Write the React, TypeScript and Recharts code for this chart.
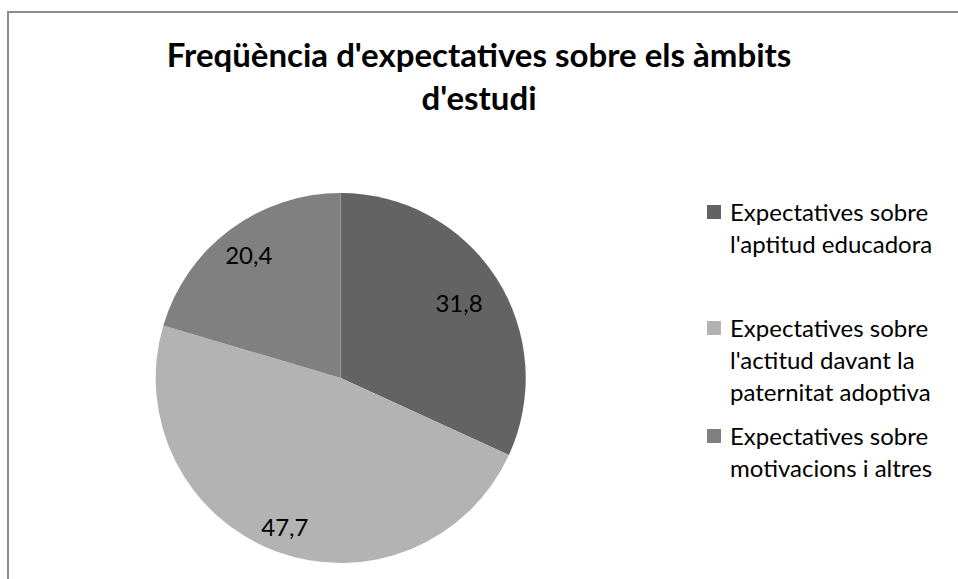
import { PieChart, Pie, Cell, Legend } from 'recharts';

const categories = [
  "Expectatives sobre l'aptitud educadora",
  "Expectatives sobre l'actitud davant la paternitat adoptiva",
  'Expectatives sobre motivacions i altres',
];
const values = [31.8, 47.7, 20.4];
const legendLines = [
  ['Expectatives sobre', "l'aptitud educadora"],
  ['Expectatives sobre', "l'actitud davant la", 'paternitat adoptiva'],
  ['Expectatives sobre', 'motivacions i altres'],
];

const sliceColors = ['#636363', '#b3b3b3', '#808080'];
const labelRadius = [0.76, 0.86, 0.83];
const legendTops = [196, 312, 420];
const FONT = 'Lato, "Open Sans", sans-serif';

const data = categories.map((name, i) => ({ name, value: values[i] }));

const RADIAN = Math.PI / 180;
const renderLabel = ({ cx, cy, midAngle, outerRadius, index, value }: any) => {
  const r = outerRadius * labelRadius[index];
  const x = cx + r * Math.cos(-midAngle * RADIAN);
  const y = cy + r * Math.sin(-midAngle * RADIAN);
  return (
    <text x={x} y={y} fill="#000" textAnchor="middle" dominantBaseline="central" fontSize={24} fontFamily={FONT}>
      {String(value).replace('.', ',')}
    </text>
  );
};

const renderLegend = () => (
  <div style={{ position: 'relative', width: 250, height: 330, fontFamily: FONT, fontSize: 24, color: '#000' }}>
    {legendLines.map((lines, i) => (
      <div key={i} style={{ position: 'absolute', left: 0, top: legendTops[i] - 190, display: 'flex', whiteSpace: 'nowrap' }}>
        <div style={{ width: 14, height: 14, background: sliceColors[i], marginTop: 9, marginRight: 9, flex: 'none' }} />
        <div style={{ lineHeight: '32px' }}>
          {lines.map((l, j) => (
            <div key={j}>{l}</div>
          ))}
        </div>
      </div>
    ))}
  </div>
);

export default function App() {
  return (
    <div style={{ position: 'fixed', left: 0, top: 0, width: 958, height: 579, background: '#fff', overflow: 'hidden' }}>
      <div
        style={{
          position: 'absolute',
          left: 7,
          top: 11,
          width: 1000,
          height: 600,
          borderTop: '2px solid #8c8c8c',
          borderLeft: '2px solid #8c8c8c',
        }}
      />
      <div
        style={{
          position: 'absolute',
          left: 0,
          width: 958,
          top: 33,
          textAlign: 'center',
          fontFamily: FONT,
          fontWeight: 700,
          fontSize: 33,
          lineHeight: '43px',
          color: '#000',
        }}
      >
        Freqüència d'expectatives sobre els àmbits
        <br />
        d'estudi
      </div>
      <div style={{ position: 'absolute', left: 0, top: 0 }}>
        <PieChart width={958} height={579}>
          <Pie
            data={data}
            dataKey="value"
            nameKey="name"
            cx={335.7}
            cy={373}
            outerRadius={185}
            startAngle={90}
            endAngle={-270}
            stroke="none"
            labelLine={false}
            label={renderLabel}
            isAnimationActive={false}
          >
            {data.map((_, i) => (
              <Cell key={i} fill={sliceColors[i]} />
            ))}
          </Pie>
          <Legend content={renderLegend} wrapperStyle={{ position: 'absolute', left: 707, top: 190, width: 250 }} />
        </PieChart>
      </div>
    </div>
  );
}
